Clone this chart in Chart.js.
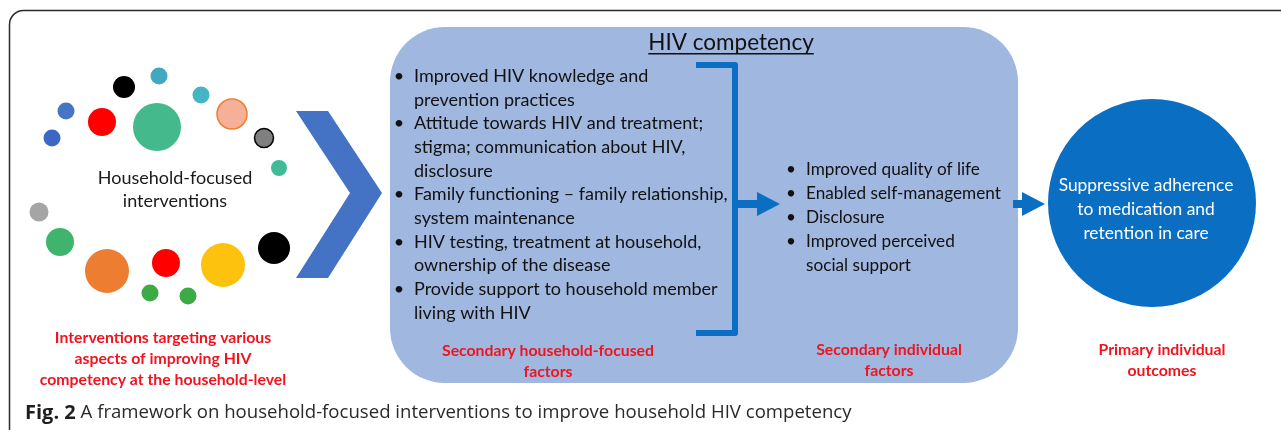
<!DOCTYPE html>
<html lang="en">
<head>
  <title>Household-focused interventions framework</title>
  <script src="https://cdn.jsdelivr.net/npm/chart.js@4.4.0/dist/chart.umd.min.js"></script>
  <style>
    body { margin: 0; background: #fff; }
    canvas { display: block; }
  </style>
</head>
<body>
  <canvas id="frameChart" width="1281" height="430"></canvas>

  <script>
    // circles round "Household-focused interventions"
    const circleX = [124, 159, 201, 232, 264, 279, 66, 52, 102, 157, 39, 60, 107, 166, 223, 274, 150, 188];
    const circleY = [87, 76, 95, 114, 138, 168, 111, 138, 122, 127, 212, 242, 271, 263, 265, 248, 293, 296];
    const circleR = [11, 8.5, 8.5, 15, 9.5, 8, 8.5, 8.5, 14, 24, 9.5, 14, 22, 14, 22, 16, 8.5, 8.5];
    const circleColor = ['#000000', '#41a8c2', '#45b4c4', '#f5b097', '#7f7f7f', '#3fbb98', '#4675c6', '#3d67c4',
      '#ff0000', '#44b98c', '#a5a5a5', '#3fb46c', '#ed7d31', '#ff0000', '#fcc20e', '#000000', '#3caa45', '#3caa45'];
    const circleBorder = [null, null, null, '#ed7d31', '#000000', null, null, null, null, null, null, null, null, null, null, null, null, null];

    // outcome circle
    const outcomeCircle = { x: 1152, y: 203, r: 104 };

    // text
    const centreLabel = ['Household-focused', 'interventions'];
    const boxTitle = 'HIV competency';
    const householdFactors = [
      ['Improved HIV knowledge and', 'prevention practices'],
      ['Attitude towards HIV and treatment;', 'stigma; communication about HIV,', 'disclosure'],
      ['Family functioning \u2013 family relationship,', 'system maintenance'],
      ['HIV testing, treatment at household,', 'ownership of the disease'],
      ['Provide support to household member', 'living with HIV']
    ];
    const individualFactors = [
      ['Improved quality of life'],
      ['Enabled self-management'],
      ['Disclosure'],
      ['Improved perceived', 'social support']
    ];
    const outcomeText = ['Suppressive adherence', 'to medication and', 'retention in care'];
    const redLabels = [
      { x: 163, y: 338, lines: ['Interventions targeting various', 'aspects of improving HIV', 'competency at the household-level'] },
      { x: 548, y: 351, lines: ['Secondary household-focused', 'factors'] },
      { x: 889, y: 350, lines: ['Secondary individual', 'factors'] },
      { x: 1162, y: 350, lines: ['Primary individual', 'outcomes'] }
    ];
    const captionBold = 'Fig. 2';
    const captionText = ' A framework on household-focused interventions to improve household HIV competency';

    // shapes (in chart units, same as pixels here)
    const chevron = [[296, 111], [328, 111], [382, 193], [328, 278], [296, 278], [350, 193]];
    const box = { x1: 390, y1: 27, x2: 1018, y2: 383, r: 55 };
    const bracket = [[696, 65], [735, 65], [735, 333], [696, 333]];
    const arrows = [
      { x1: 735, x2: 780, head: 757, y: 204 },
      { x1: 1013, x2: 1045, head: 1022, y: 204 }
    ];

    const FONT = 'Lato, "Open Sans", sans-serif';

    const diagramPlugin = {
      id: 'diagram',
      beforeDatasetsDraw(chart) {
        const ctx = chart.ctx;
        const sx = chart.scales.x, sy = chart.scales.y;
        const X = v => sx.getPixelForValue(v), Y = v => sy.getPixelForValue(v);
        ctx.save();

        // outer frame
        ctx.strokeStyle = '#2b2b2b';
        ctx.lineWidth = 1.5;
        ctx.beginPath();
        ctx.roundRect(X(9.5), Y(10.5), 1300, 460, 14);
        ctx.stroke();

        // chevron
        ctx.fillStyle = '#4472c4';
        ctx.beginPath();
        chevron.forEach(([px, py], i) => i ? ctx.lineTo(X(px), Y(py)) : ctx.moveTo(X(px), Y(py)));
        ctx.closePath();
        ctx.fill();

        // competency box
        ctx.fillStyle = '#a0b7e0';
        ctx.beginPath();
        ctx.roundRect(X(box.x1), Y(box.y1), X(box.x2) - X(box.x1), Y(box.y2) - Y(box.y1), box.r);
        ctx.fill();

        // bracket
        ctx.strokeStyle = '#0a6fc2';
        ctx.lineWidth = 6;
        ctx.lineJoin = 'round';
        ctx.beginPath();
        bracket.forEach(([px, py], i) => i ? ctx.lineTo(X(px), Y(py)) : ctx.moveTo(X(px), Y(py)));
        ctx.stroke();

        // arrows
        ctx.fillStyle = '#0a6fc2';
        arrows.forEach(a => {
          ctx.fillRect(X(a.x1), Y(a.y) - 4, X(a.head) - X(a.x1) + 1, 8);
          ctx.beginPath();
          ctx.moveTo(X(a.head), Y(a.y) - 12);
          ctx.lineTo(X(a.x2), Y(a.y));
          ctx.lineTo(X(a.head), Y(a.y) + 12);
          ctx.closePath();
          ctx.fill();
        });
        ctx.restore();
      },
      afterDraw(chart) {
        const ctx = chart.ctx;
        const sx = chart.scales.x, sy = chart.scales.y;
        const X = v => sx.getPixelForValue(v), Y = v => sy.getPixelForValue(v);
        ctx.save();
        ctx.textBaseline = 'middle';

        function lines(arr, x, y, lh, font, color, align) {
          ctx.font = font;
          ctx.fillStyle = color;
          ctx.textAlign = align;
          arr.forEach((t, i) => ctx.fillText(t, X(x), Y(y + i * lh)));
        }

        lines(centreLabel, 175, 178, 23, '18px ' + FONT, '#1a1a1a', 'center');

        // title with underline
        ctx.font = '22.5px ' + FONT;
        ctx.fillStyle = '#111';
        ctx.textAlign = 'center';
        ctx.fillText(boxTitle, X(731), Y(43));
        const w = ctx.measureText(boxTitle).width;
        ctx.fillRect(X(731) - w / 2, Y(53), w, 1.5);

        // bulleted lists
        function bullets(groups, bx, tx, y0, lh, size) {
          let y = y0;
          groups.forEach(g => {
            ctx.font = size + 'px ' + FONT;
            ctx.fillStyle = '#111';
            ctx.textAlign = 'center';
            ctx.fillText('\u2022', X(bx), Y(y));
            ctx.textAlign = 'left';
            g.forEach(t => { ctx.fillText(t, X(tx), Y(y)); y += lh; });
          });
        }
        bullets(householdFactors, 399, 414, 76, 23.7, 18);
        bullets(individualFactors, 791, 806, 169, 24, 17.2);

        lines(outcomeText, 1146, 185, 24, '17.4px ' + FONT, '#ffffff', 'center');

        redLabels.forEach(l => lines(l.lines, l.x, l.y, 20.7, 'bold 15.8px ' + FONT, '#f0141e', 'center'));

        // caption
        ctx.textAlign = 'left';
        ctx.font = 'bold 20px "Open Sans", sans-serif';
        ctx.fillStyle = '#1e1e1e';
        ctx.fillText(captionBold, X(25), Y(413));
        const bw = ctx.measureText(captionBold).width;
        ctx.font = '18.6px "Open Sans", sans-serif';
        ctx.fillStyle = '#2a2a2a';
        ctx.fillText(captionText, X(25) + bw, Y(413));
        ctx.restore();
      }
    };

    const small = circleX.map((x, i) => ({ x: x, y: circleY[i], r: circleR[i] }));

    new Chart(document.getElementById('frameChart'), {
      type: 'bubble',
      data: {
        datasets: [
          {
            label: 'interventions',
            data: small,
            backgroundColor: circleColor,
            borderColor: circleColor.map((c, i) => circleBorder[i] || c),
            borderWidth: circleColor.map((c, i) => circleBorder[i] ? 1.5 : 0)
          },
          {
            label: 'outcome',
            data: [outcomeCircle],
            backgroundColor: '#0a6fc2',
            borderWidth: 0
          }
        ]
      },
      options: {
        responsive: false,
        animation: false,
        layout: { padding: 0, autoPadding: false },
        plugins: { legend: { display: false }, tooltip: { enabled: false } },
        scales: {
          x: { type: 'linear', min: 0, max: 1281, display: false },
          y: { type: 'linear', min: 0, max: 430, reverse: true, display: false }
        },
        elements: { point: { hoverRadius: 0 } }
      },
      plugins: [diagramPlugin]
    });
  </script>
</body>
</html>
